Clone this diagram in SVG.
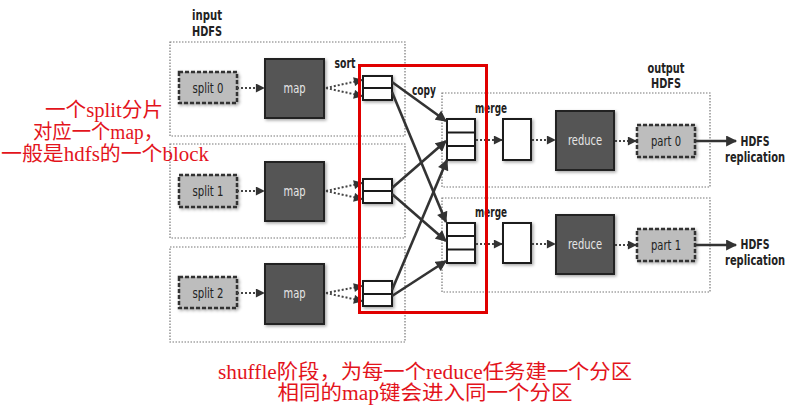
<svg xmlns="http://www.w3.org/2000/svg" width="808" height="418" viewBox="0 0 808 418">
<defs>
<style>
.lbl{font-family:"DejaVu Sans Condensed","Liberation Sans",sans-serif;font-size:14px;fill:#222}
.b{font-weight:bold}
.wt{fill:#e6e6e6}
.zone{fill:none;stroke:#777;stroke-width:1.2;stroke-dasharray:1.5 1.5}
.split{fill:#bdbdbd;stroke:#333;stroke-width:2.5;stroke-dasharray:4 2}
.dark{fill:#555;stroke:#222;stroke-width:2}
.buf{fill:#fff;stroke:#1a1a1a;stroke-width:2}
.dot{stroke:#444;stroke-width:2;stroke-dasharray:2 2;fill:none}
.solid{stroke:#333;stroke-width:2.6;fill:none}
.red{font-family:"Liberation Serif","Noto Sans CJK SC",serif;font-size:20px;fill:#e3141c}
</style>
<marker id="ah" viewBox="0 0 10 10" refX="9" refY="5" markerWidth="10" markerHeight="9" markerUnits="userSpaceOnUse" orient="auto"><path d="M0,0L10,5L0,10z" fill="#333"/></marker>
<marker id="ahs" viewBox="0 0 10 10" refX="9" refY="5" markerWidth="12" markerHeight="11" markerUnits="userSpaceOnUse" orient="auto"><path d="M0,0L10,5L0,10z" fill="#333"/></marker>
<filter id="sh" x="-20%" y="-20%" width="140%" height="140%"><feDropShadow dx="1.5" dy="1.5" stdDeviation="1.5" flood-color="#000" flood-opacity="0.35"/></filter>
</defs>
<rect width="808" height="418" fill="#fff"/>

<g id="zones">
<rect class="zone" x="170" y="42" width="235" height="94"/>
<rect class="zone" x="170" y="144" width="235" height="94"/>
<rect class="zone" x="170" y="247" width="235" height="95"/>
<rect class="zone" x="442" y="93" width="268" height="94"/>
<rect class="zone" x="442" y="198" width="268" height="94"/>
</g>

<g id="labels">
<text class="lbl b" x="207" y="20" text-anchor="middle" textLength="30" lengthAdjust="spacingAndGlyphs">input</text>
<text class="lbl b" x="207" y="36" text-anchor="middle" textLength="30" lengthAdjust="spacingAndGlyphs">HDFS</text>
<text class="lbl b" x="666" y="73" text-anchor="middle" textLength="37" lengthAdjust="spacingAndGlyphs">output</text>
<text class="lbl b" x="666" y="88" text-anchor="middle" textLength="30" lengthAdjust="spacingAndGlyphs">HDFS</text>
<text class="lbl b" x="345" y="68" text-anchor="middle" textLength="21" lengthAdjust="spacingAndGlyphs">sort</text>
<text class="lbl b" x="424" y="95" text-anchor="middle" textLength="24" lengthAdjust="spacingAndGlyphs">copy</text>
<text class="lbl b" x="491" y="113" text-anchor="middle" textLength="32" lengthAdjust="spacingAndGlyphs">merge</text>
<text class="lbl b" x="491" y="217" text-anchor="middle" textLength="32" lengthAdjust="spacingAndGlyphs">merge</text>
<text class="lbl b" x="755" y="146" text-anchor="middle" textLength="29" lengthAdjust="spacingAndGlyphs">HDFS</text>
<text class="lbl b" x="755" y="162" text-anchor="middle" textLength="60" lengthAdjust="spacingAndGlyphs">replication</text>
<text class="lbl b" x="755" y="249" text-anchor="middle" textLength="29" lengthAdjust="spacingAndGlyphs">HDFS</text>
<text class="lbl b" x="755" y="265" text-anchor="middle" textLength="60" lengthAdjust="spacingAndGlyphs">replication</text>
</g>

<g id="split0"><rect class="split" x="179" y="72" width="58" height="31" filter="url(#sh)"/><text class="lbl" x="208" y="92.5" text-anchor="middle" textLength="31" lengthAdjust="spacingAndGlyphs">split 0</text></g>
<g id="split1"><rect class="split" x="179" y="175" width="58" height="32" filter="url(#sh)"/><text class="lbl" x="208" y="195.5" text-anchor="middle" textLength="31" lengthAdjust="spacingAndGlyphs">split 1</text></g>
<g id="split2"><rect class="split" x="179" y="277" width="58" height="31" filter="url(#sh)"/><text class="lbl" x="208" y="297.5" text-anchor="middle" textLength="31" lengthAdjust="spacingAndGlyphs">split 2</text></g>

<g id="map0"><rect class="dark" x="265" y="59" width="59" height="59" filter="url(#sh)"/><text class="lbl wt" x="294.5" y="93" text-anchor="middle" textLength="22" lengthAdjust="spacingAndGlyphs">map</text></g>
<g id="map1"><rect class="dark" x="265" y="162" width="59" height="59" filter="url(#sh)"/><text class="lbl wt" x="294.5" y="196" text-anchor="middle" textLength="22" lengthAdjust="spacingAndGlyphs">map</text></g>
<g id="map2"><rect class="dark" x="265" y="264" width="59" height="60" filter="url(#sh)"/><text class="lbl wt" x="294.5" y="298" text-anchor="middle" textLength="22" lengthAdjust="spacingAndGlyphs">map</text></g>

<g id="sort0"><rect class="buf" x="363" y="76" width="29" height="24" filter="url(#sh)"/><line x1="363" y1="88" x2="392" y2="88" stroke="#1a1a1a" stroke-width="2"/></g>
<g id="sort1"><rect class="buf" x="363" y="179" width="29" height="24" filter="url(#sh)"/><line x1="363" y1="191" x2="392" y2="191" stroke="#1a1a1a" stroke-width="2"/></g>
<g id="sort2"><rect class="buf" x="363" y="281" width="29" height="25" filter="url(#sh)"/><line x1="363" y1="294" x2="392" y2="294" stroke="#1a1a1a" stroke-width="2"/></g>

<g id="merge0"><rect class="buf" x="447" y="119" width="28" height="41" filter="url(#sh)"/><line x1="447" y1="132.5" x2="475" y2="132.5" stroke="#1a1a1a" stroke-width="2"/><line x1="447" y1="146" x2="475" y2="146" stroke="#1a1a1a" stroke-width="2"/></g>
<g id="merge1"><rect class="buf" x="447" y="223" width="28" height="40" filter="url(#sh)"/><line x1="447" y1="236" x2="475" y2="236" stroke="#1a1a1a" stroke-width="2"/><line x1="447" y1="249.5" x2="475" y2="249.5" stroke="#1a1a1a" stroke-width="2"/></g>

<g id="sorted0"><rect class="buf" x="503" y="119" width="28" height="41" filter="url(#sh)"/></g>
<g id="sorted1"><rect class="buf" x="503" y="223" width="28" height="40" filter="url(#sh)"/></g>

<g id="reduce0"><rect class="dark" x="556" y="111" width="58" height="59" filter="url(#sh)"/><text class="lbl wt" x="585" y="145" text-anchor="middle" textLength="34" lengthAdjust="spacingAndGlyphs">reduce</text></g>
<g id="reduce1"><rect class="dark" x="556" y="215" width="58" height="59" filter="url(#sh)"/><text class="lbl wt" x="585" y="249" text-anchor="middle" textLength="34" lengthAdjust="spacingAndGlyphs">reduce</text></g>

<g id="part0"><rect class="split" x="637" y="125" width="58" height="32" filter="url(#sh)"/><text class="lbl" x="666" y="145.5" text-anchor="middle" textLength="30" lengthAdjust="spacingAndGlyphs">part 0</text></g>
<g id="part1"><rect class="split" x="637" y="229" width="58" height="32" filter="url(#sh)"/><text class="lbl" x="666" y="249.5" text-anchor="middle" textLength="30" lengthAdjust="spacingAndGlyphs">part 1</text></g>

<g id="connectors">
<line class="dot" x1="237" y1="88" x2="264" y2="88" marker-end="url(#ah)"/>
<line class="dot" x1="237" y1="191" x2="264" y2="191" marker-end="url(#ah)"/>
<line class="dot" x1="237" y1="293" x2="264" y2="293" marker-end="url(#ah)"/>
<line class="dot" x1="326" y1="88" x2="362" y2="80" marker-end="url(#ah)"/>
<line class="dot" x1="326" y1="88" x2="362" y2="96" marker-end="url(#ah)"/>
<line class="dot" x1="326" y1="191" x2="362" y2="183" marker-end="url(#ah)"/>
<line class="dot" x1="326" y1="191" x2="362" y2="199" marker-end="url(#ah)"/>
<line class="dot" x1="326" y1="293" x2="362" y2="286" marker-end="url(#ah)"/>
<line class="dot" x1="326" y1="293" x2="362" y2="301" marker-end="url(#ah)"/>
<line class="solid" x1="392" y1="82" x2="446" y2="121" marker-end="url(#ahs)"/>
<line class="solid" x1="392" y1="92" x2="446" y2="222" marker-end="url(#ahs)"/>
<line class="solid" x1="392" y1="188" x2="446" y2="141" marker-end="url(#ahs)"/>
<line class="solid" x1="392" y1="194" x2="446" y2="241" marker-end="url(#ahs)"/>
<line class="solid" x1="392" y1="290" x2="447" y2="160" marker-end="url(#ahs)"/>
<line class="solid" x1="392" y1="296" x2="446" y2="261" marker-end="url(#ahs)"/>
<line class="dot" x1="476" y1="140" x2="502" y2="140" marker-end="url(#ah)"/>
<line class="dot" x1="476" y1="244" x2="502" y2="244" marker-end="url(#ah)"/>
<line class="dot" x1="532" y1="140" x2="555" y2="140" marker-end="url(#ah)"/>
<line class="dot" x1="532" y1="244" x2="555" y2="244" marker-end="url(#ah)"/>
<line class="dot" x1="615" y1="141" x2="636" y2="141" marker-end="url(#ah)"/>
<line class="dot" x1="615" y1="245" x2="636" y2="245" marker-end="url(#ah)"/>
<line class="solid" x1="696" y1="141" x2="736" y2="141" marker-end="url(#ahs)"/>
<line class="solid" x1="696" y1="245" x2="736" y2="245" marker-end="url(#ahs)"/>
</g>

<g id="shuffle-highlight">
<rect x="359.5" y="65.5" width="127" height="247" fill="none" stroke="#e00000" stroke-width="3"/>
</g>

<g id="notes">
<text class="red" x="104" y="117" text-anchor="middle" textLength="118" lengthAdjust="spacingAndGlyphs">一个split分片</text>
<text class="red" x="98" y="139" text-anchor="middle" textLength="130" lengthAdjust="spacingAndGlyphs">对应一个map，</text>
<text class="red" x="105" y="161" text-anchor="middle" textLength="208" lengthAdjust="spacingAndGlyphs">一般是hdfs的一个block</text>
<text class="red" x="425" y="379" text-anchor="middle" textLength="414" lengthAdjust="spacingAndGlyphs">shuffle阶段，为每一个reduce任务建一个分区</text>
<text class="red" x="425" y="400" text-anchor="middle" textLength="295" lengthAdjust="spacingAndGlyphs">相同的map键会进入同一个分区</text>
</g>
</svg>
